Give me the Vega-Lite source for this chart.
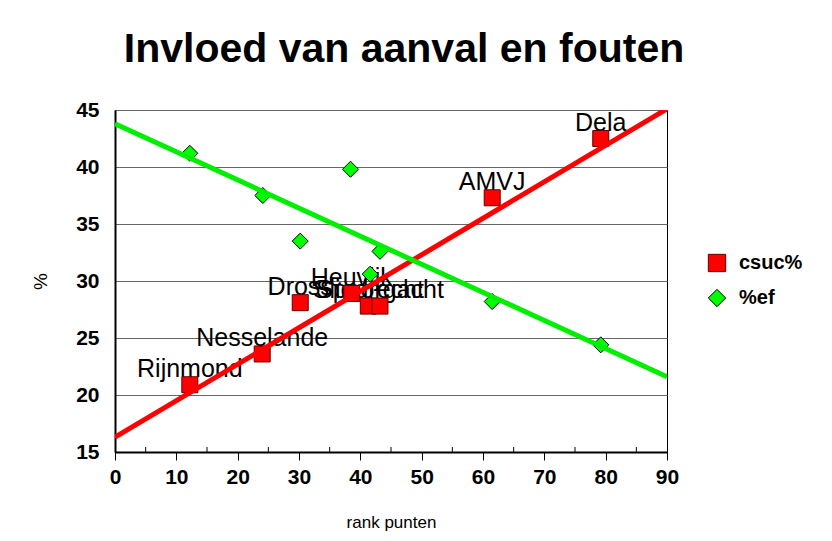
{
  "$schema": "https://vega.github.io/schema/vega-lite/v6.json",
  "autosize": {"type": "none"},
  "width": 552,
  "height": 342,
  "padding": {"left": 115, "top": 110, "right": 165, "bottom": 89},
  "background": "white",
  "title": {
    "text": "Invloed van aanval en fouten",
    "font": "Liberation Sans",
    "fontSize": 41,
    "fontWeight": "bold",
    "color": "black",
    "anchor": "middle",
    "frame": "group",
    "baseline": "alphabetic",
    "offset": -4,
    "dx": 13
  },
  "datasets": {
    "points": [
      {"team": "Rijnmond", "rank": 12.2, "series": "csuc%", "value": 20.9},
      {"team": "Nesselande", "rank": 24.0, "series": "csuc%", "value": 23.6},
      {"team": "Dross", "rank": 30.2, "series": "csuc%", "value": 28.1},
      {"team": "Heuvijk", "rank": 38.6, "series": "csuc%", "value": 28.9},
      {"team": "Sliedrecht", "rank": 41.3, "series": "csuc%", "value": 27.8},
      {"team": "Spoorgacht", "rank": 43.2, "series": "csuc%", "value": 27.8},
      {"team": "AMVJ", "rank": 61.5, "series": "csuc%", "value": 37.3},
      {"team": "Dela", "rank": 79.2, "series": "csuc%", "value": 42.5},
      {"team": "Rijnmond", "rank": 12.2, "series": "%ef", "value": 41.2},
      {"team": "Nesselande", "rank": 24.1, "series": "%ef", "value": 37.5},
      {"team": "Dross", "rank": 30.2, "series": "%ef", "value": 33.5},
      {"team": "Heuvijk", "rank": 38.4, "series": "%ef", "value": 39.8},
      {"team": "Sliedrecht", "rank": 41.6, "series": "%ef", "value": 30.6},
      {"team": "Spoorgacht", "rank": 43.2, "series": "%ef", "value": 32.6},
      {"team": "AMVJ", "rank": 61.5, "series": "%ef", "value": 28.2},
      {"team": "Dela", "rank": 79.2, "series": "%ef", "value": 24.4}
    ],
    "trend": [
      {"series": "csuc%", "rank": 0, "value": 16.3},
      {"series": "csuc%", "rank": 90, "value": 45.1},
      {"series": "%ef", "rank": 0, "value": 43.8},
      {"series": "%ef", "rank": 90, "value": 21.6}
    ],
    "minor": [
      {"rank": 5, "value": 15}, {"rank": 15, "value": 15}, {"rank": 25, "value": 15},
      {"rank": 35, "value": 15}, {"rank": 45, "value": 15}, {"rank": 55, "value": 15},
      {"rank": 65, "value": 15}, {"rank": 75, "value": 15}, {"rank": 85, "value": 15}
    ]
  },
  "encoding": {
    "x": {
      "field": "rank", "type": "quantitative",
      "scale": {"domain": [0, 90], "nice": false, "zero": false},
      "axis": {
        "title": "rank punten",
        "titleFont": "Liberation Sans", "titleFontSize": 17, "titleFontWeight": "normal", "titleColor": "black",
        "titlePadding": 27,
        "values": [0, 10, 20, 30, 40, 50, 60, 70, 80, 90],
        "labelFont": "Liberation Sans", "labelFontSize": 21, "labelFontWeight": "bold", "labelColor": "black",
        "labelPadding": 6, "labelFlush": false,
        "tickSize": 8, "tickColor": "black", "tickWidth": 1,
        "domainColor": "black", "domainWidth": 2,
        "grid": false
      }
    },
    "y": {
      "field": "value", "type": "quantitative",
      "scale": {"domain": [15, 45], "nice": false, "zero": false},
      "axis": {
        "title": "%",
        "titleFont": "Liberation Sans", "titleFontSize": 19, "titleFontWeight": "normal", "titleColor": "black",
        "titlePadding": 25,
        "values": [15, 20, 25, 30, 35, 40, 45],
        "labelFont": "Liberation Sans", "labelFontSize": 21, "labelFontWeight": "bold", "labelColor": "black",
        "labelPadding": 16, "labelFlush": false,
        "ticks": false,
        "domainColor": "black", "domainWidth": 2,
        "grid": true, "gridColor": "#666666", "gridWidth": 1
      }
    }
  },
  "layer": [
    {
      "data": {"name": "minor"},
      "mark": {"type": "tick", "orient": "vertical", "size": 10, "thickness": 1, "color": "black", "clip": true, "opacity": 1}
    },
    {
      "data": {"name": "points"},
      "transform": [{"filter": {"field": "series", "equal": "csuc%"}}],
      "mark": {"type": "text", "font": "Liberation Sans", "fontSize": 25, "color": "black", "align": "center", "baseline": "alphabetic", "dy": -8},
      "encoding": {"text": {"field": "team"}}
    },
    {
      "data": {"name": "points"},
      "mark": {"type": "point", "filled": true, "strokeWidth": 1, "opacity": 1, "size": 256},
      "encoding": {
        "shape": {"field": "series", "type": "nominal", "scale": {"domain": ["csuc%", "%ef"], "range": ["square", "diamond"]}, "legend": {"title": null}},
        "fill": {"field": "series", "type": "nominal", "scale": {"domain": ["csuc%", "%ef"], "range": ["#ff0000", "#00ff00"]}, "legend": {"title": null}},
        "stroke": {"field": "series", "type": "nominal", "scale": {"domain": ["csuc%", "%ef"], "range": ["#600000", "#000000"]}, "legend": {"title": null}}
      }
    },
    {
      "data": {"name": "trend"},
      "mark": {"type": "line", "strokeWidth": 5, "clip": true},
      "encoding": {
        "detail": {"field": "series"},
        "color": {"field": "series", "type": "nominal", "scale": {"domain": ["csuc%", "%ef"], "range": ["#ff0000", "#00ee00"]}, "legend": null}
      }
    }
  ],
  "resolve": {"scale": {"color": "independent"}},
  "config": {
    "view": {"stroke": "black", "strokeWidth": 1},
    "font": "Liberation Sans",
    "legend": {
      "orient": "none",
      "legendX": 592,
      "legendY": 143,
      "labelFont": "Liberation Sans",
      "labelFontSize": 20,
      "labelFontWeight": "bold",
      "labelColor": "black",
      "symbolSize": 300,
      "symbolStrokeWidth": 1,
      "rowPadding": 13,
      "labelOffset": 12
    }
  }
}
